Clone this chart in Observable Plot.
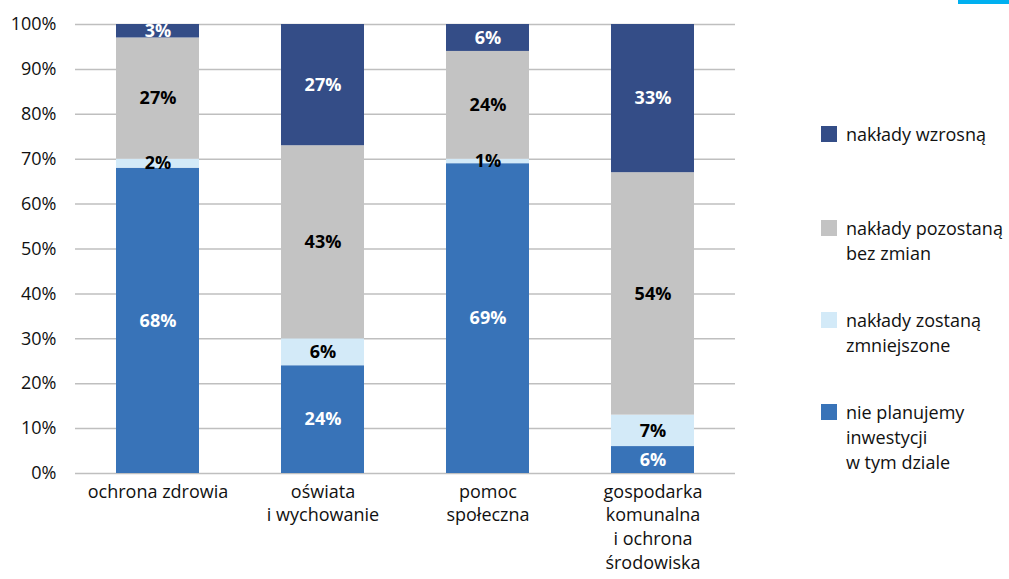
<!DOCTYPE html>
<html>
<head>
<meta charset="utf-8">
<script src="https://cdn.jsdelivr.net/npm/d3@7"></script>
<script src="https://cdn.jsdelivr.net/npm/@observablehq/plot@0.6"></script>
<style>
  html, body { margin: 0; padding: 0; background: #fff; }
  #wrap { position: relative; width: 1009px; height: 579px; font-family: "Open Sans", Lato, sans-serif; }
  #chart { position: absolute; left: 0; top: 0; }
  .lg { position: absolute; left: 821px; font-size: 18px; color: #111; line-height: 25px; }
  .lg .sw { position: absolute; left: 0; width: 16px; height: 16px; top: 4px; }
  .lg .tx { position: absolute; left: 25px; white-space: nowrap; top: 0; }
  #accent { position: absolute; left: 958px; top: 0; width: 51px; height: 4px; background: #00b0f0; }
</style>
</head>
<body>
<div id="wrap">
  <div id="chart"></div>
  <div id="legend"></div>
  <div id="accent"></div>
</div>
<script>
const categories = ["ochrona zdrowia", "oświata\ni wychowanie", "pomoc\nspołeczna", "gospodarka\nkomunalna\ni ochrona\nśrodowiska"];
const seriesNames = ["nie planujemy inwestycji w tym dziale", "nakłady zostaną zmniejszone", "nakłady pozostaną bez zmian", "nakłady wzrosną"];
const legendLabels = ["nie planujemy\ninwestycji\nw tym dziale", "nakłady zostaną\nzmniejszone", "nakłady pozostaną\nbez zmian", "nakłady wzrosną"];
const seriesColors = ["#3873b8", "#d3eaf8", "#c3c3c3", "#344d87"];
const labelColors = ["#ffffff", "#000000", "#000000", "#ffffff"];
const niePlanujemy = [68, 24, 69, 6];
const zmniejszone = [2, 6, 1, 7];
const bezZmian = [27, 43, 24, 54];
const wzrosna = [3, 27, 6, 33];
const yTicks = [0, 10, 20, 30, 40, 50, 60, 70, 80, 90, 100];

const seriesValues = [niePlanujemy, zmniejszone, bezZmian, wzrosna];
const data = [];
categories.forEach((c, i) => {
  seriesNames.forEach((s, j) => {
    data.push({category: c, series: s, value: seriesValues[j][i], labelColor: labelColors[j]});
  });
});

const plot = Plot.plot({
  width: 1009,
  height: 579,
  marginLeft: 75,
  marginRight: 274,
  marginTop: 24,
  marginBottom: 106,
  style: {fontFamily: "'Open Sans', Lato, sans-serif", fontSize: "18px", color: "#111", background: "#fff"},
  x: {domain: categories, paddingInner: 0.5, paddingOuter: 0.25, label: null},
  y: {domain: [0, 100], label: null},
  color: {domain: seriesNames, range: seriesColors},
  marks: [
    Plot.gridY(yTicks, {stroke: "#bfbfbf", strokeOpacity: 1, strokeWidth: 1.5}),
    Plot.barY(data, Plot.stackY({x: "category", y: "value", fill: "series", order: null})),
    Plot.text(data, Plot.stackY({x: "category", y: "value", text: d => d.value + "%", fill: "labelColor", fontWeight: "bold", fontSize: 18, order: null})),
    Plot.axisY(yTicks, {tickSize: 0, tickPadding: 19, tickFormat: d => d + "%", fontSize: 18, fill: "#111"}),
    Plot.axisX({tickSize: 0, tickPadding: 7, fontSize: 18, lineHeight: 1.33, fill: "#111", label: null})
  ]
});
document.getElementById("chart").appendChild(plot);

const legendTops = [400, 308, 216, 122];
const legend = document.getElementById("legend");
legendLabels.forEach((l, j) => {
  const d = document.createElement("div");
  d.className = "lg";
  d.style.top = legendTops[j] + "px";
  const sw = document.createElement("div");
  sw.className = "sw";
  sw.style.background = seriesColors[j];
  const tx = document.createElement("div");
  tx.className = "tx";
  tx.innerHTML = l.split("\n").join("<br>");
  d.appendChild(sw);
  d.appendChild(tx);
  legend.appendChild(d);
});
</script>
</body>
</html>
